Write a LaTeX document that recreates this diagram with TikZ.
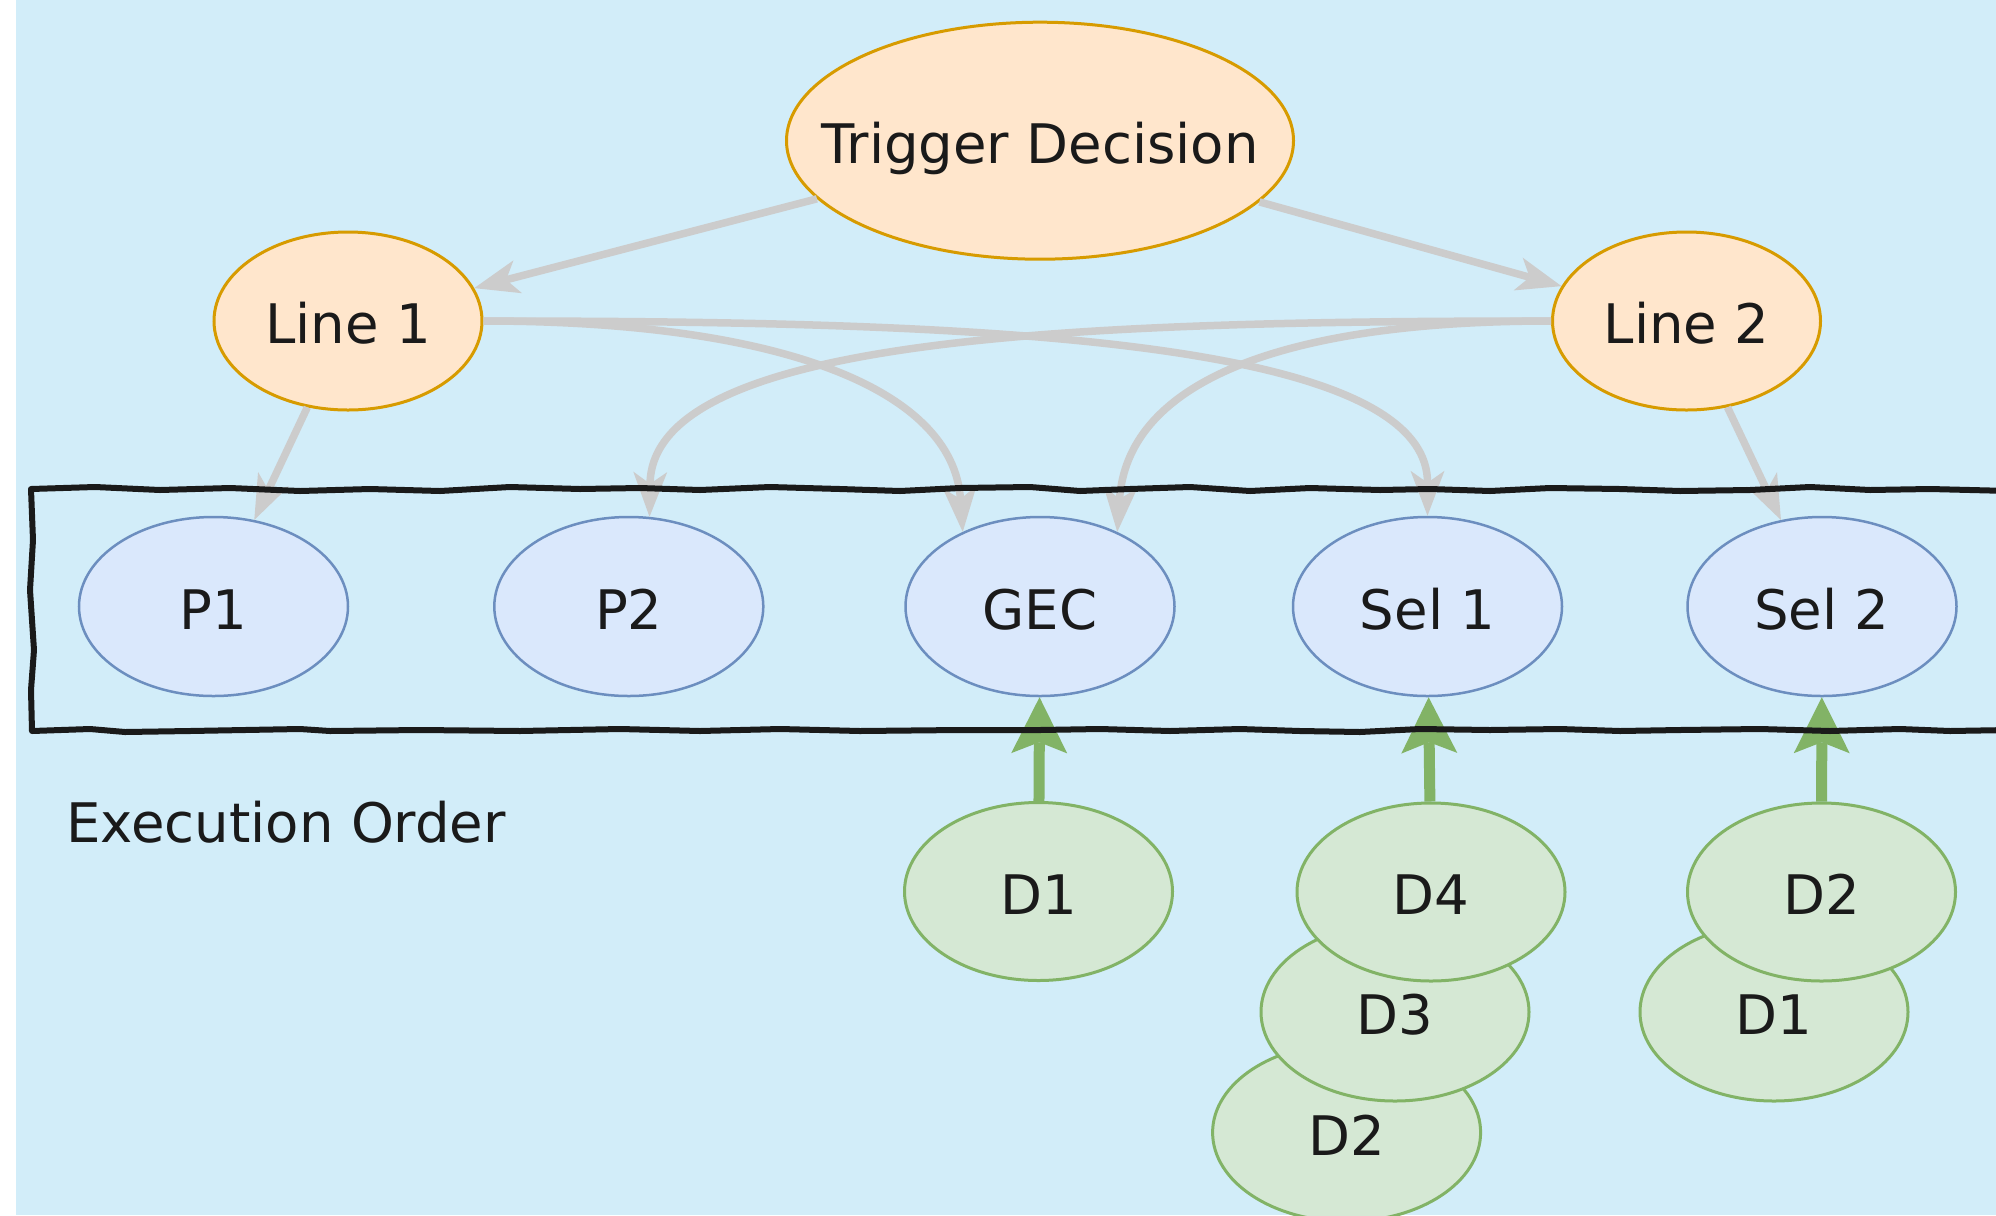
\documentclass[tikz,border=0pt]{standalone}
\usepackage{fontspec}
\setmainfont{DejaVu Sans}
\usetikzlibrary{shapes.geometric,arrows.meta}
\definecolor{bgblue}{HTML}{D2EDF9}
\definecolor{orfill}{HTML}{FFE6CC}
\definecolor{orline}{HTML}{D79B00}
\definecolor{blfill}{HTML}{DAE8FC}
\definecolor{blline}{HTML}{6C8EBF}
\definecolor{grfill}{HTML}{D5E8D4}
\definecolor{grline}{HTML}{82B366}
\definecolor{edgegray}{HTML}{CCCCCC}
\definecolor{txt}{HTML}{1A1A1A}
\begin{document}
\begin{tikzpicture}[x=1bp,y=-1bp,
  font=\fontsize{54.5bp}{62bp}\selectfont, text=txt,
  ell/.style={ellipse, inner ysep=0pt, inner xsep=-60bp, text height=45bp, text depth=0bp},
  orangeE/.style={ell, draw=orline, fill=orfill, line width=3bp, minimum width=268bp, minimum height=178bp},
  trigE/.style={orangeE, minimum width=507bp, minimum height=237bp},
  blueE/.style={ell, draw=blline, fill=blfill, line width=2.5bp, minimum width=269bp, minimum height=179bp},
  greenE/.style={ell, draw=grline, fill=grfill, line width=3bp, minimum width=268bp, minimum height=178bp},
  grayedge/.style={draw=edgegray, line width=7.5bp, -{Stealth[length=45bp,width=34bp,inset=12bp,line width=0pt]}},
  greenedge/.style={draw=grline, line width=11bp, -{Stealth[length=56bp,width=56bp,inset=11bp,line width=0pt]}},
  sketchbox/.style={draw=txt, line width=6bp, line join=round, line cap=round}
]
\useasboundingbox (0,0) rectangle (1996,1215);
\clip (0,0) rectangle (1996,1215);
\fill[white] (0,0) rectangle (1996,1215);
\fill[bgblue] (16,0) rectangle (1996,1215);

% nodes
\node[trigE] (TD) at (1040,140.7) {Trigger Decision};
\node[orangeE] (L1) at (348,321) {Line 1};
\node[orangeE] (L2) at (1686.5,321) {Line 2};

\node[blueE] (P1) at (213.5,606.5) {P1};
\node[blueE] (P2) at (628.8,606.5) {P2};
\node[blueE] (GEC) at (1040,606.5) {GEC};
\node[blueE] (S1) at (1427.5,606.5) {Sel 1};
\node[blueE] (S2) at (1822,606.5) {Sel 2};

\node[greenE] (Da1) at (1038.5,891.5) {D1};
\node[greenE] (Db2) at (1346.6,1132.5) {D2};
\node[greenE] (Db3) at (1395,1012) {D3};
\node[greenE] (Db4) at (1431,892) {D4};
\node[greenE] (Dc1) at (1774,1012) {D1};
\node[greenE] (Dc2) at (1821.5,892) {D2};

% gray connectors
\draw[grayedge] (TD) -- (L1);
\draw[grayedge] (TD) -- (L2);
\draw[grayedge] (L1) -- (P1);
\draw[grayedge] (L2) -- (S2);
\draw[grayedge] (L1.east) .. controls +(296,0) and +(-10,-143) .. (GEC.136);
\draw[grayedge] (L1.east) .. controls +(466,0) and +(0,-181) .. (S1.north);
\draw[grayedge] (L2.west) .. controls +(-466,0) and +(3,-182) .. (P2.77);
\draw[grayedge] (L2.west) .. controls +(-286,0) and +(10,-143) .. (GEC.44);

% green connectors
\draw[greenedge] (Da1) -- (GEC);
\draw[greenedge] (Db4) -- (S1);
\draw[greenedge] (Dc2) -- (S2);

% sketchy container
\draw[sketchbox] (2010,491) -- (1930,489) -- (1870,490) -- (1810,487) -- (1750,490) -- (1680,491)
  -- (1620,489) -- (1550,488) -- (1490,491) -- (1430,489) -- (1380,490) -- (1310,488) -- (1250,491)
  -- (1190,487) -- (1130,489) -- (1080,491) -- (1030,487) -- (960,488) -- (900,491) -- (840,489)
  -- (770,487) -- (700,490) -- (640,488) -- (580,489) -- (510,487) -- (440,491) -- (370,489)
  -- (300,491) -- (230,488) -- (160,490) -- (95,487) -- (31,489)
  -- (33,540) -- (30,590) -- (34,650) -- (31,690) -- (32,731)
  -- (90,729) -- (125,732) -- (190,731) -- (300,729) -- (330,731) -- (420,730) -- (520,731)
  -- (620,729) -- (700,731) -- (780,729) -- (860,731) -- (960,730) -- (1040,730) -- (1100,729)
  -- (1170,731) -- (1240,729) -- (1300,731) -- (1360,732) -- (1420,729) -- (1490,730) -- (1560,729)
  -- (1620,731) -- (1680,730) -- (1760,729) -- (1830,731) -- (1900,729) -- (1950,731) -- (2010,730);

% label
\node[anchor=base west, inner sep=0pt] (lbl) at (66,842) {Execution Order};
\end{tikzpicture}
\end{document}
